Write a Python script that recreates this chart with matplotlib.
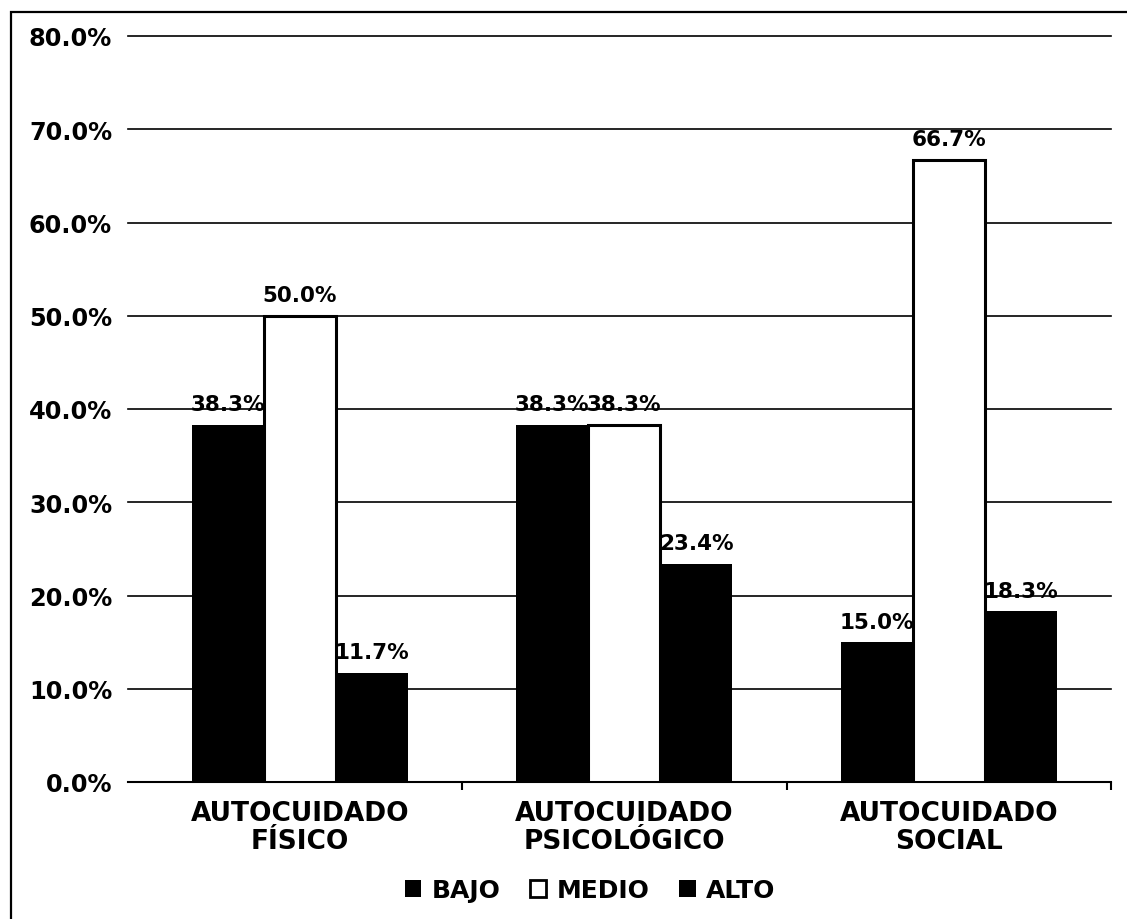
import matplotlib
matplotlib.use("Agg")
import matplotlib.pyplot as plt
from matplotlib.patches import Patch, Rectangle
from matplotlib.ticker import FuncFormatter, FixedLocator
import numpy as np

plt.rcParams["font.family"] = "DejaVu Sans"
plt.rcParams["font.weight"] = "bold"

# Self-care dimensions and level percentages
categories = ["AUTOCUIDADO\nFÍSICO", "AUTOCUIDADO\nPSICOLÓGICO", "AUTOCUIDADO\nSOCIAL"]
levels = ["BAJO", "MEDIO", "ALTO"]
bajo = [38.3, 38.3, 15.0]
medio = [50.0, 38.3, 66.7]
alto = [11.7, 23.4, 18.3]
yticks = [0, 10, 20, 30, 40, 50, 60, 70, 80]

W, H = 1127, 920
fig = plt.figure(figsize=(W / 100, H / 100), dpi=100)
ax = fig.add_axes([128 / W, 1 - 783 / H, (1111 - 128) / W, (783 - 37) / H])

x = np.arange(len(categories))
width = 0.222
series = [bajo, medio, alto]
faces = ["black", "white", "black"]
for i, (vals, fc) in enumerate(zip(series, faces)):
    bars = ax.bar(x + (i - 1) * width, vals, width, color=fc,
                  edgecolor="black", linewidth=2.2 if fc == "white" else 0,
                  zorder=3, label=levels[i])
    for b, v in zip(bars, vals):
        ax.annotate(f"{v:.1f}%", (b.get_x() + b.get_width() / 2, v),
                    xytext=(0, 10.5), textcoords="offset points",
                    ha="center", va="baseline", fontsize=15.5,
                    fontweight="bold", zorder=4)

ax.set_xlim(-0.53, 2.5)
ax.set_ylim(0, 80)
ax.yaxis.set_major_locator(FixedLocator(yticks))
ax.yaxis.set_major_formatter(FuncFormatter(lambda v, p: f"{v:.1f}%"))
ax.tick_params(axis="y", length=0, pad=11.5, labelsize=17.3)

# horizontal reference lines, drawn unclipped so the top one keeps full width
for t in yticks[1:]:
    ax.axhline(t, color="black", linewidth=1.2, zorder=0, clip_on=False)

ax.set_xticks(x)
ax.set_xticklabels(categories, fontsize=19, fontweight="bold", linespacing=1.1)
ax.tick_params(axis="x", which="major", length=0, pad=13)
ax.set_xticks([0.5, 1.5, 2.5], minor=True)
ax.tick_params(axis="x", which="minor", length=6, width=1.5, direction="out")

for s in ["left", "right", "top"]:
    ax.spines[s].set_visible(False)
ax.spines["bottom"].set_linewidth(1.5)

handles = [Patch(facecolor=fc, edgecolor="black", linewidth=2 if fc == "white" else 0)
           for fc in faces]
fig.legend(handles, levels, loc="center", bbox_to_anchor=(590 / W, 1 - 891 / H),
           ncol=3, frameon=False, handlelength=0.65, handleheight=0.65,
           handletextpad=0.4, columnspacing=1.2, prop={"weight": "bold", "size": 18})

# outer frame around the figure
fig.patches.append(Rectangle((11 / W, -0.05), 1.1, 1.05 - 13 / H,
                             transform=fig.transFigure, fill=False,
                             edgecolor="black", linewidth=1.6))

fig.savefig("out.png", dpi=100)
